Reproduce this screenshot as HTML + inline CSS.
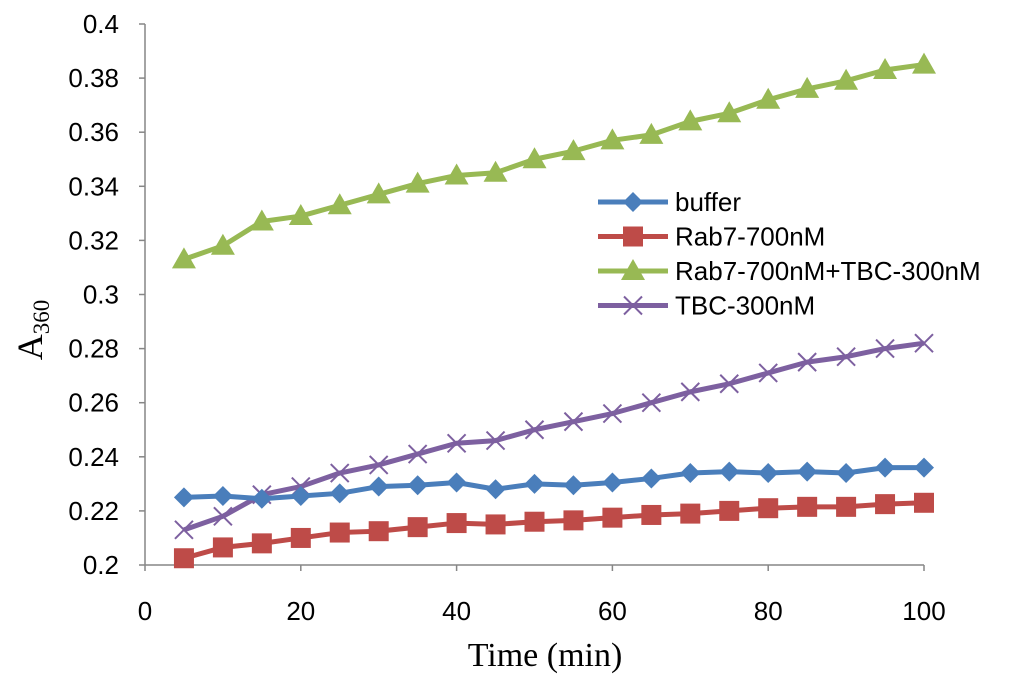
<!DOCTYPE html>
<html><head><meta charset="utf-8"><style>
html,body{margin:0;padding:0;background:#fff;}
svg{display:block;}
</style></head><body>
<svg id="chart" width="1024" height="677" xmlns="http://www.w3.org/2000/svg" font-family="Liberation Sans, sans-serif">
<g id="axes"></g><g id="series"></g><g id="legend"></g>
</svg>
<script>
const times=[5,10,15,20,25,30,35,40,45,50,55,60,65,70,75,80,85,90,95,100];
const buffer=[0.225,0.2255,0.2245,0.2255,0.2265,0.229,0.2295,0.2305,0.228,0.230,0.2295,0.2305,0.232,0.234,0.2345,0.234,0.2345,0.234,0.236,0.236];
const rab7=[0.2025,0.2065,0.208,0.210,0.212,0.2125,0.214,0.2155,0.215,0.216,0.2165,0.2175,0.2185,0.219,0.220,0.221,0.2215,0.2215,0.2225,0.223];
const rab7tbc=[0.313,0.318,0.327,0.329,0.333,0.337,0.341,0.344,0.345,0.350,0.353,0.357,0.359,0.364,0.367,0.372,0.376,0.379,0.383,0.385];
const tbc=[0.213,0.218,0.226,0.229,0.234,0.237,0.241,0.245,0.246,0.250,0.253,0.256,0.260,0.264,0.267,0.271,0.275,0.277,0.280,0.282];
const xTicks=[0,20,40,60,80,100];
const yTicks=[0.2,0.22,0.24,0.26,0.28,0.3,0.32,0.34,0.36,0.38,0.4];
const yTickLabels=["0.2","0.22","0.24","0.26","0.28","0.3","0.32","0.34","0.36","0.38","0.4"];
const seriesNames=["buffer","Rab7-700nM","Rab7-700nM+TBC-300nM","TBC-300nM"];
const NS="http://www.w3.org/2000/svg";
const X0=145,X1=924,Y0=565,Y1=24;
const xs=v=>X0+(v-0)/(100-0)*(X1-X0);
const ys=v=>Y0-(v-0.2)/(0.4-0.2)*(Y0-Y1);
function mk(tag,attrs,parent,text){const e=document.createElementNS(NS,tag);for(const k in attrs)e.setAttribute(k,attrs[k]);if(text!==undefined)e.textContent=text;parent.appendChild(e);return e;}
const axes=document.getElementById('axes');
let e=mk('line',{x1:X0,y1:Y1,x2:X0,y2:Y0,stroke:'#868686','stroke-width':1.5},axes);


e=mk('line',{x1:X0,y1:Y0,x2:X1,y2:Y0,stroke:'#868686','stroke-width':1.5},axes);


yTicks.forEach((t,i)=>{
  mk('line',{x1:X0-6,y1:ys(t),x2:X0,y2:ys(t),stroke:'#868686','stroke-width':1.5},axes);
  const l=mk('text',{x:X0-26,y:ys(t)+9,'text-anchor':'end','font-size':26,fill:'#000'},axes,yTickLabels[i]);
  
  
});
xTicks.forEach(t=>{
  mk('line',{x1:xs(t),y1:Y0,x2:xs(t),y2:Y0+6,stroke:'#868686','stroke-width':1.5},axes);
  const l=mk('text',{x:xs(t),y:Y0+55,'text-anchor':'middle','font-size':26,fill:'#000'},axes,String(t));
  
  
});
e=mk('text',{x:545,y:666,'text-anchor':'middle','font-size':34,'font-family':'Liberation Serif, serif'},axes,'Time (min)');


e=mk('text',{transform:'translate(42,330) rotate(-90)','text-anchor':'middle','font-size':36,'font-family':'Liberation Serif, serif'},axes);


mk('tspan',{},e,'A');mk('tspan',{'font-size':23,dy:7},e,'360');

function marker(g,type,x,y,color){
  if(type==='diamond')mk('polygon',{points:`${x},${y-10} ${x+10},${y} ${x},${y+10} ${x-10},${y}`,fill:color},g);
  else if(type==='square')mk('rect',{x:x-10,y:y-10,width:20,height:20,fill:color},g);
  else if(type==='triangle')mk('polygon',{points:`${x},${y-12} ${x+12},${y+9} ${x-12},${y+9}`,fill:color},g);
  else {mk('line',{x1:x-9,y1:y-9,x2:x+9,y2:y+9,stroke:color,'stroke-width':2},g);mk('line',{x1:x-9,y1:y+9,x2:x+9,y2:y-9,stroke:color,'stroke-width':2},g);}
}
const defs=[[buffer,'#4a7ebb','diamond','series-buffer'],[rab7,'#be4b48','square','series-rab7'],[rab7tbc,'#98b954','triangle','series-rab7-tbc'],[tbc,'#7d60a0','x','series-tbc']];
const sg=document.getElementById('series');
[2,3,0,1].forEach(i=>{
  const [vals,color,type,name]=defs[i];
  const g=mk('g',{},sg);
  
  
  mk('polyline',{points:times.map((t,j)=>xs(t)+','+ys(vals[j])).join(' '),fill:'none',stroke:color,'stroke-width':5,'stroke-linejoin':'round'},g);
  times.forEach((t,j)=>marker(g,type,xs(t),ys(vals[j]),color));
});
const lg=document.getElementById('legend');


seriesNames.forEach((n,i)=>{
  const [,color,type]=defs[i];
  const y=202+i*34.5;
  const g=mk('g',{},lg);
  
  
  mk('line',{x1:598,y1:y,x2:668,y2:y,stroke:color,'stroke-width':5},g);
  marker(g,type,633,y,color);
  mk('text',{x:675,y:y+9,'font-size':26,fill:'#000'},g,n);
});
</script>
</body></html>
